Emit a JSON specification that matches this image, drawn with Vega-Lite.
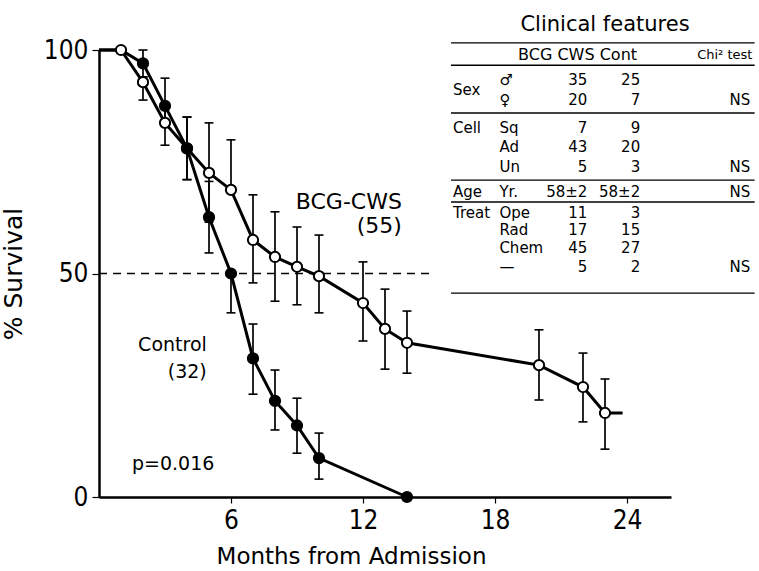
{
  "$schema": "https://vega.github.io/schema/vega-lite/v6.json",
  "autosize": {"type": "none"},
  "padding": {"left": 99, "top": 50, "right": 88, "bottom": 74},
  "width": 572,
  "height": 447,
  "config": {"view": {"stroke": null}, "font": "DejaVu Sans", "text": {"color": "black"}},
  "datasets": {
    "curves": [
      {"group": "BCG-CWS", "month": 0, "pct": 100},
      {"group": "BCG-CWS", "month": 1, "pct": 100},
      {"group": "BCG-CWS", "month": 2, "pct": 92.8},
      {"group": "BCG-CWS", "month": 3, "pct": 83.7},
      {"group": "BCG-CWS", "month": 4, "pct": 78},
      {"group": "BCG-CWS", "month": 5, "pct": 72.5},
      {"group": "BCG-CWS", "month": 6, "pct": 68.7},
      {"group": "BCG-CWS", "month": 7, "pct": 57.5},
      {"group": "BCG-CWS", "month": 8, "pct": 53.7},
      {"group": "BCG-CWS", "month": 9, "pct": 51.5},
      {"group": "BCG-CWS", "month": 10, "pct": 49.4},
      {"group": "BCG-CWS", "month": 12, "pct": 43.4},
      {"group": "BCG-CWS", "month": 13, "pct": 37.6},
      {"group": "BCG-CWS", "month": 14, "pct": 34.5},
      {"group": "BCG-CWS", "month": 20, "pct": 29.5},
      {"group": "BCG-CWS", "month": 22, "pct": 24.6},
      {"group": "BCG-CWS", "month": 23, "pct": 18.8},
      {"group": "BCG-CWS", "month": 23.8, "pct": 18.8},
      {"group": "Control", "month": 0, "pct": 100},
      {"group": "Control", "month": 1, "pct": 100},
      {"group": "Control", "month": 2, "pct": 97},
      {"group": "Control", "month": 3, "pct": 87.5},
      {"group": "Control", "month": 4, "pct": 78},
      {"group": "Control", "month": 5, "pct": 62.6},
      {"group": "Control", "month": 6, "pct": 50},
      {"group": "Control", "month": 7, "pct": 31},
      {"group": "Control", "month": 8, "pct": 21.5},
      {"group": "Control", "month": 9, "pct": 16},
      {"group": "Control", "month": 10, "pct": 8.7},
      {"group": "Control", "month": 14, "pct": 0}
    ],
    "obs": [
      {"group": "BCG-CWS", "month": 1, "pct": 100, "lo": null, "hi": null},
      {"group": "BCG-CWS", "month": 2, "pct": 92.8, "lo": 88.8, "hi": 94},
      {"group": "BCG-CWS", "month": 3, "pct": 83.7, "lo": 78.7, "hi": 88},
      {"group": "BCG-CWS", "month": 4, "pct": 78, "lo": 71, "hi": 85},
      {"group": "BCG-CWS", "month": 5, "pct": 72.5, "lo": 61.5, "hi": 83.7},
      {"group": "BCG-CWS", "month": 6, "pct": 68.7, "lo": 68.7, "hi": 79.9},
      {"group": "BCG-CWS", "month": 7, "pct": 57.5, "lo": 47.9, "hi": 67.6},
      {"group": "BCG-CWS", "month": 8, "pct": 53.7, "lo": 43.8, "hi": 63.8},
      {"group": "BCG-CWS", "month": 9, "pct": 51.5, "lo": 43, "hi": 60.4},
      {"group": "BCG-CWS", "month": 10, "pct": 49.4, "lo": 41.2, "hi": 58.6},
      {"group": "BCG-CWS", "month": 12, "pct": 43.4, "lo": 34.9, "hi": 52.6},
      {"group": "BCG-CWS", "month": 13, "pct": 37.6, "lo": 28.6, "hi": 46.5},
      {"group": "BCG-CWS", "month": 14, "pct": 34.5, "lo": 27.7, "hi": 41.6},
      {"group": "BCG-CWS", "month": 20, "pct": 29.5, "lo": 21.7, "hi": 37.4},
      {"group": "BCG-CWS", "month": 22, "pct": 24.6, "lo": 16.8, "hi": 32.2},
      {"group": "BCG-CWS", "month": 23, "pct": 18.8, "lo": 10.7, "hi": 26.4},
      {"group": "Control", "month": 2, "pct": 97, "lo": 94, "hi": 100},
      {"group": "Control", "month": 3, "pct": 87.5, "lo": 84, "hi": 93.7},
      {"group": "Control", "month": 4, "pct": 78, "lo": 71, "hi": 85},
      {"group": "Control", "month": 5, "pct": 62.6, "lo": 54.6, "hi": 70.6},
      {"group": "Control", "month": 6, "pct": 50, "lo": 41.2, "hi": 50},
      {"group": "Control", "month": 7, "pct": 31, "lo": 23, "hi": 38.7},
      {"group": "Control", "month": 8, "pct": 21.5, "lo": 15, "hi": 28.4},
      {"group": "Control", "month": 9, "pct": 16, "lo": 9.8, "hi": 22.1},
      {"group": "Control", "month": 10, "pct": 8.7, "lo": 4, "hi": 14.3},
      {"group": "Control", "month": 14, "pct": 0, "lo": null, "hi": null}
    ],
    "median": [{"pct": 50, "from": 0, "to": 15}],
    "notes": [
      {"text": "BCG-CWS", "month": 13.77, "pct": 66.1, "size": "big"},
      {"text": "(55)", "month": 13.77, "pct": 60.6, "size": "big"},
      {"text": "Control", "month": 4.9, "pct": 33.9, "size": "mid"},
      {"text": "(32)", "month": 4.9, "pct": 27.9, "size": "mid"}
    ],
    "pnote": [{"text": "p=0.016", "month": 1.5, "pct": 7.4}],
    "tlines": [{"at": 101.6}, {"at": 96.6}, {"at": 85.9}, {"at": 70.9}, {"at": 66.0}, {"at": 45.6}],
    "table": [
      {"y": 93.3, "group": "", "item": "♂", "bcg": "35", "cont": "25", "chi": ""},
      {"y": 91.1, "group": "Sex", "item": "", "bcg": "", "cont": "", "chi": ""},
      {"y": 88.8, "group": "", "item": "♀", "bcg": "20", "cont": "7", "chi": "NS"},
      {"y": 82.6, "group": "Cell", "item": "Sq", "bcg": "7", "cont": "9", "chi": ""},
      {"y": 78.3, "group": "", "item": "Ad", "bcg": "43", "cont": "20", "chi": ""},
      {"y": 73.8, "group": "", "item": "Un", "bcg": "5", "cont": "3", "chi": "NS"},
      {"y": 68.2, "group": "Age", "item": "Yr.", "bcg": "58±2", "cont": "58±2", "chi": "NS"},
      {"y": 63.5, "group": "Treat", "item": "Ope", "bcg": "11", "cont": "3", "chi": ""},
      {"y": 59.7, "group": "", "item": "Rad", "bcg": "17", "cont": "15", "chi": ""},
      {"y": 55.7, "group": "", "item": "Chem", "bcg": "45", "cont": "27", "chi": ""},
      {"y": 51.5, "group": "", "item": "—", "bcg": "5", "cont": "2", "chi": "NS"}
    ]
  },
  "encoding": {
    "x": {"type": "quantitative", "scale": {"domain": [0, 26], "nice": false, "zero": false}},
    "y": {"type": "quantitative", "scale": {"domain": [0, 100], "nice": false}}
  },
  "layer": [
    {
      "data": {"name": "median"},
      "mark": {"type": "rule", "strokeDash": [8, 6], "strokeWidth": 1.3, "color": "black"},
      "encoding": {
        "x": {"field": "from", "type": "quantitative", "title": "Months from Admission",
          "axis": {"values": [6, 12, 18, 24], "grid": false, "domainWidth": 2.5, "domainColor": "black", "tickColor": "black", "tickSize": 6, "tickWidth": 1.2,
            "labelFont": "Liberation Sans Narrow, DejaVu Sans Condensed, sans-serif", "labelFontSize": 26, "labelColor": "black", "labelPadding": 4,
            "titleFont": "DejaVu Sans", "titleFontSize": 23, "titleFontWeight": "normal", "titleColor": "black", "titleX": 252, "titlePadding": 12}},
        "x2": {"field": "to"},
        "y": {"field": "pct", "type": "quantitative", "title": "% Survival",
          "axis": {"values": [0, 50, 100], "grid": false, "domainWidth": 2.5, "domainColor": "black", "tickColor": "black", "tickSize": 7, "tickWidth": 1.2,
            "labelFont": "Liberation Sans Narrow, DejaVu Sans Condensed, sans-serif", "labelFontSize": 26, "labelColor": "black", "labelPadding": 4,
            "titleFont": "DejaVu Sans", "titleFontSize": 25, "titleFontWeight": "normal", "titleColor": "black", "titlePadding": 17}}
      }
    },
    {
      "data": {"name": "tlines"},
      "mark": {"type": "rule", "strokeWidth": 1.4, "color": "black"},
      "encoding": {"x": {"datum": 16}, "x2": {"datum": 29.8}, "y": {"field": "at", "type": "quantitative", "title": "% Survival"}}
    },
    {
      "data": {"values": [{"t": "Clinical features"}]},
      "mark": {"type": "text", "fontSize": 21, "align": "center", "baseline": "middle"},
      "encoding": {"x": {"datum": 23}, "y": {"datum": 105.6}, "text": {"field": "t"}}
    },
    {
      "data": {"values": [{"t": "BCG CWS Cont"}]},
      "mark": {"type": "text", "fontSize": 16, "align": "left", "baseline": "middle"},
      "encoding": {"x": {"datum": 19.05}, "y": {"datum": 98.9}, "text": {"field": "t"}}
    },
    {
      "data": {"values": [{"t": "Chi² test"}]},
      "mark": {"type": "text", "fontSize": 13, "align": "right", "baseline": "middle"},
      "encoding": {"x": {"datum": 29.7}, "y": {"datum": 98.9}, "text": {"field": "t"}}
    },
    {
      "data": {"name": "table"},
      "mark": {"type": "text", "fontSize": 15, "align": "left", "baseline": "middle"},
      "encoding": {"x": {"datum": 16.09}, "y": {"field": "y", "type": "quantitative", "title": "% Survival"}, "text": {"field": "group"}}
    },
    {
      "data": {"name": "table"},
      "mark": {"type": "text", "fontSize": 15, "align": "left", "baseline": "middle"},
      "encoding": {"x": {"datum": 18.2}, "y": {"field": "y", "type": "quantitative", "title": "% Survival"}, "text": {"field": "item"}}
    },
    {
      "data": {"name": "table"},
      "mark": {"type": "text", "fontSize": 15, "align": "right", "baseline": "middle"},
      "encoding": {"x": {"datum": 22.2}, "y": {"field": "y", "type": "quantitative", "title": "% Survival"}, "text": {"field": "bcg"}}
    },
    {
      "data": {"name": "table"},
      "mark": {"type": "text", "fontSize": 15, "align": "right", "baseline": "middle"},
      "encoding": {"x": {"datum": 24.6}, "y": {"field": "y", "type": "quantitative", "title": "% Survival"}, "text": {"field": "cont"}}
    },
    {
      "data": {"name": "table"},
      "mark": {"type": "text", "fontSize": 15, "align": "right", "baseline": "middle"},
      "encoding": {"x": {"datum": 29.6}, "y": {"field": "y", "type": "quantitative", "title": "% Survival"}, "text": {"field": "chi"}}
    },
    {
      "data": {"name": "obs"},
      "transform": [{"filter": "isValid(datum.lo)"}],
      "mark": {"type": "rule", "color": "black", "strokeWidth": 1.7},
      "encoding": {
        "x": {"field": "month", "type": "quantitative", "title": "Months from Admission"},
        "y": {"field": "lo", "type": "quantitative", "title": "% Survival"},
        "y2": {"field": "hi"}
      }
    },
    {
      "data": {"name": "obs"},
      "transform": [{"filter": "isValid(datum.lo)"}],
      "mark": {"type": "tick", "orient": "horizontal", "color": "black", "size": 9, "thickness": 1.6, "opacity": 1},
      "encoding": {
        "x": {"field": "month", "type": "quantitative", "title": "Months from Admission"},
        "y": {"field": "lo", "type": "quantitative", "title": "% Survival"}
      }
    },
    {
      "data": {"name": "obs"},
      "transform": [{"filter": "isValid(datum.hi)"}],
      "mark": {"type": "tick", "orient": "horizontal", "color": "black", "size": 9, "thickness": 1.6, "opacity": 1},
      "encoding": {
        "x": {"field": "month", "type": "quantitative", "title": "Months from Admission"},
        "y": {"field": "hi", "type": "quantitative", "title": "% Survival"}
      }
    },
    {
      "data": {"name": "curves"},
      "mark": {"type": "line", "color": "black", "strokeWidth": 3},
      "encoding": {
        "x": {"field": "month", "type": "quantitative", "title": "Months from Admission"},
        "y": {"field": "pct", "type": "quantitative", "title": "% Survival"},
        "detail": {"field": "group"}
      }
    },
    {
      "data": {"name": "obs"},
      "mark": {"type": "point", "filled": true, "size": 105, "stroke": "black", "strokeWidth": 2, "opacity": 1},
      "encoding": {
        "x": {"field": "month", "type": "quantitative", "title": "Months from Admission"},
        "y": {"field": "pct", "type": "quantitative", "title": "% Survival"},
        "fill": {"field": "group", "type": "nominal", "scale": {"domain": ["BCG-CWS", "Control"], "range": ["white", "black"]}, "legend": null}
      }
    },
    {
      "data": {"name": "notes"},
      "mark": {"type": "text", "align": "right", "baseline": "middle"},
      "encoding": {
        "x": {"field": "month", "type": "quantitative", "title": "Months from Admission"},
        "y": {"field": "pct", "type": "quantitative", "title": "% Survival"},
        "text": {"field": "text"},
        "size": {"field": "size", "type": "nominal", "scale": {"domain": ["big", "mid"], "range": [22, 19]}, "legend": null}
      }
    },
    {
      "data": {"name": "pnote"},
      "mark": {"type": "text", "align": "left", "baseline": "middle", "fontSize": 19},
      "encoding": {
        "x": {"field": "month", "type": "quantitative", "title": "Months from Admission"},
        "y": {"field": "pct", "type": "quantitative", "title": "% Survival"},
        "text": {"field": "text"}
      }
    }
  ]
}
